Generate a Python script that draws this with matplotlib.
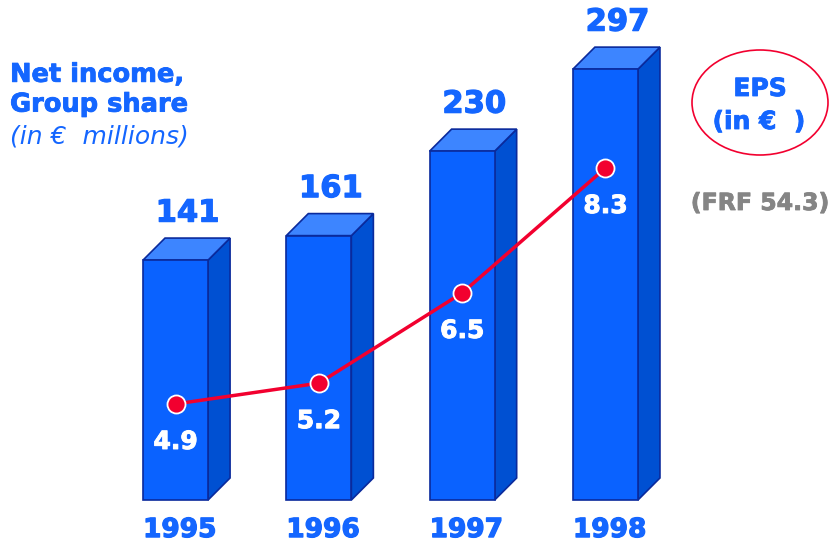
"""Net income, Group share with EPS overlay - 3D-style bars."""
import matplotlib
matplotlib.use("Agg")
import matplotlib.pyplot as plt
import matplotlib.patheffects as pe
from matplotlib.patches import Rectangle, Polygon, Ellipse
from matplotlib.transforms import blended_transform_factory

years = ["1995", "1996", "1997", "1998"]
net_income = [141, 161, 230, 297]      # € millions
eps = [4.9, 5.2, 6.5, 8.3]             # € per share
eps_labels = ["4.9", "5.2", "6.5", "8.3"]

BLUE_TXT = "#1466ff"
FRONT = "#0a62ff"
TOP = "#3d85ff"
SIDE = "#0050d2"
EDGE = "#0a2a9c"
RED = "#f2002f"

plt.rcParams["font.family"] = ["DejaVu Sans"]


def heavy(color, w=0.9):
    # DejaVu Bold is a touch lighter than the original's font; fatten it a bit
    return [pe.withStroke(linewidth=w, foreground=color)]


fig = plt.figure(figsize=(8.35, 5.42), dpi=100)
ax = fig.add_axes([0, 0, 1, 1])
ax.set_xlim(-1.225, 4.602)
ax.set_ylim(-89.3, 353.5)
ax.axis("off")

base = -55          # bars start below zero so the small ones keep some body
width = 0.454
dx, dy = 0.1535, 18  # depth of the fake 3D box

for i, v in enumerate(net_income):
    x0 = i - width / 2
    x1 = i + width / 2
    ax.add_patch(Polygon([(x1, base), (x1 + dx, base + dy), (x1 + dx, v + dy), (x1, v)],
                         closed=True, fc=SIDE, ec=EDGE, lw=1.2, zorder=2))
    ax.add_patch(Polygon([(x0, v), (x0 + dx, v + dy), (x1 + dx, v + dy), (x1, v)],
                         closed=True, fc=TOP, ec=EDGE, lw=1.2, zorder=2))
    ax.add_patch(Rectangle((x0, base), width, v - base,
                           fc=FRONT, ec=EDGE, lw=1.2, zorder=3))
    ax.annotate(str(v), (i, v), xytext=(12, 47), textcoords="offset pixels",
                ha="center", va="center", fontsize=22, fontweight="bold",
                color=BLUE_TXT, zorder=5, path_effects=heavy(BLUE_TXT))

# year labels along the bottom
trans = blended_transform_factory(ax.transData, ax.transAxes)
for i, yr in enumerate(years):
    ax.text(i + 0.03, 0.022, yr, transform=trans, ha="center", va="center",
            fontsize=19, fontweight="bold", color=BLUE_TXT,
            path_effects=heavy(BLUE_TXT))

# EPS line on its own scale
ax2 = ax.twinx()
ax2.set_ylim(2.911, 10.721)
ax2.axis("off")
xs = list(range(len(eps)))
ax2.plot(xs, eps, color=RED, lw=2.5, zorder=6)
ax2.plot(xs, eps, "o", ms=13, mfc=RED, mec="white", mew=1.3, zorder=7)
for i, (e, lab) in enumerate(zip(eps, eps_labels)):
    ax2.annotate(lab, (i, e), xytext=(0, -38), textcoords="offset pixels",
                 ha="center", va="center", fontsize=18, fontweight="bold",
                 color="white", zorder=8, path_effects=heavy("white", 0.7))

# left-hand caption
fig.text(0.012, 0.862, "Net income,", fontsize=18.5, fontweight="bold",
         color=BLUE_TXT, va="center", path_effects=heavy(BLUE_TXT, 0.6))
fig.text(0.012, 0.807, "Group share", fontsize=18.5, fontweight="bold",
         color=BLUE_TXT, va="center", path_effects=heavy(BLUE_TXT, 0.6))
fig.text(0.012, 0.748, "(in \u20ac  millions)", fontsize=18, style="italic",
         color=BLUE_TXT, va="center")

# EPS bubble on the right
fig.add_artist(Ellipse((760 / 835, 1 - 102.5 / 542), 136 / 835, 105 / 542,
                       transform=fig.transFigure, fc="none", ec=RED, lw=1.2))
fig.text(760 / 835, 1 - 89 / 542, "EPS", ha="center", va="center",
         fontsize=18, fontweight="bold", color=BLUE_TXT,
         path_effects=heavy(BLUE_TXT, 0.6))
fig.text(759 / 835, 1 - 122 / 542, "(in \u20ac  )", ha="center", va="center",
         fontsize=18, fontweight="bold", color=BLUE_TXT,
         path_effects=heavy(BLUE_TXT, 0.6))
fig.text(760 / 835, 1 - 203 / 542, "(FRF 54.3)", ha="center", va="center",
         fontsize=17, fontweight="bold", color="#858585",
         path_effects=heavy("#858585", 0.6))

fig.savefig("out.png", dpi=100)
